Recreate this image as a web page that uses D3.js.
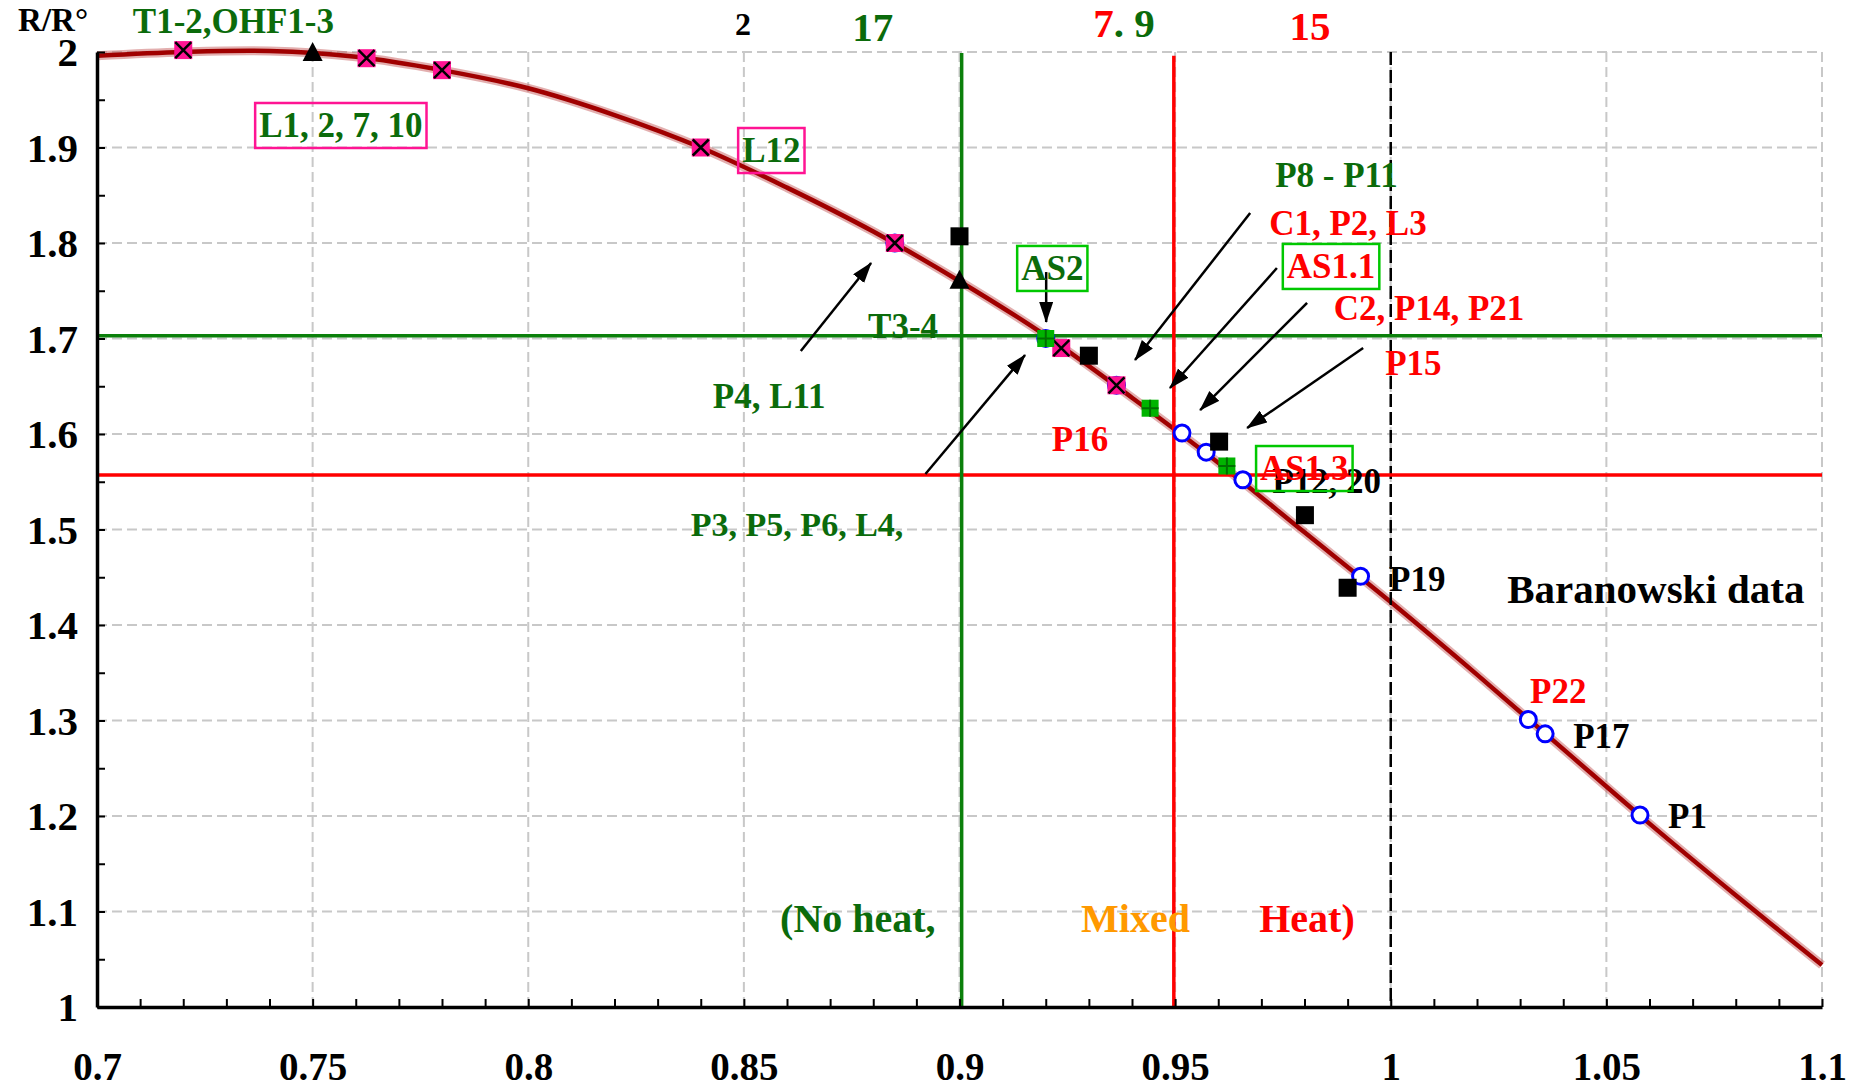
<!DOCTYPE html>
<html>
<head>
<meta charset="utf-8">
<script src="https://cdnjs.cloudflare.com/ajax/libs/d3/7.8.5/d3.min.js"></script>
<style>
body { margin: 0; background: #fff; }
svg { display: block; font-family: "Liberation Serif", "Times New Roman", serif; font-weight: bold; }
</style>
</head>
<body>
<div id="chart"></div>
<script>
// main curve R/R°
const curveX = [0.70, 0.72, 0.74, 0.76, 0.78, 0.80, 0.82, 0.84, 0.86, 0.88, 0.90, 0.92, 0.94, 0.96, 0.98, 1.00, 1.02, 1.04, 1.06, 1.08, 1.10];
const curveY = [1.996, 2.000, 2.001, 1.995, 1.981, 1.962, 1.934, 1.900, 1.858, 1.812, 1.760, 1.703, 1.638, 1.570, 1.497, 1.424, 1.348, 1.270, 1.192, 1.117, 1.044];

// point series
const pinkX = [0.72, 0.7625, 0.78, 0.84, 0.885, 0.9236, 0.9364];
const pinkY = [2.002, 1.9935, 1.981, 1.900, 1.800, 1.690, 1.651];
const blueX = [0.885, 0.92, 0.9364, 0.9516, 0.9572, 0.9657, 0.993, 1.0319, 1.0358, 1.0578];
const blueY = [1.800, 1.700, 1.651, 1.601, 1.581, 1.552, 1.451, 1.301, 1.286, 1.201];
const blackSqX = [0.9, 0.93, 0.9602, 0.9801, 0.99];
const blackSqY = [1.807, 1.682, 1.592, 1.515, 1.439];
const triX = [0.75, 0.9];
const triY = [1.998, 1.7595];
const greenX = [0.92, 0.9442, 0.962];
const greenY = [1.700, 1.627, 1.5665];

// reference lines
const greenVx = 0.9005, redVx = 0.9497, blackVx = 1.0;
const greenHy = 1.703, redHy = 1.557;

// axes
const xTickValues = [0.7, 0.75, 0.8, 0.85, 0.9, 0.95, 1.0, 1.05, 1.1];
const xTickLabels = ["0.7", "0.75", "0.8", "0.85", "0.9", "0.95", "1", "1.05", "1.1"];
const yTickValues = [1.0, 1.1, 1.2, 1.3, 1.4, 1.5, 1.6, 1.7, 1.8, 1.9, 2.0];
const yTickLabels = ["1", "1.1", "1.2", "1.3", "1.4", "1.5", "1.6", "1.7", "1.8", "1.9", "2"];

// annotation texts
const labelTexts = ["R/R°", "T1-2,OHF1-3", "2", "17", "15", "P8 - P11", "C1, P2, L3", "C2, P14, P21", "P15",
  "T3-4", "P4, L11", "P16", "P3, P5, P6, L4,", "P12, 20", "P19", "Baranowski data", "P22", "P17", "P1",
  "(No heat,", "Mixed", "Heat)"];
const boxTexts = ["L1, 2, 7, 10", "L12", "AS2", "AS1.1", "AS1.3"];

// arrows [x1, y1, x2, y2] in data units
const arrows = [
  [0.8632, 1.6869, 0.8795, 1.7791],
  [0.8921, 1.5581, 0.9152, 1.6827],
  [0.9201, 1.7696, 0.9201, 1.7173],
  [0.9674, 1.8314, 0.9407, 1.6775],
  [0.9736, 1.7738, 0.9488, 1.6482],
  [0.9806, 1.7372, 0.9558, 1.6251],
  [0.9936, 1.6901, 0.9667, 1.6063]
];

const W = 1858, H = 1088;
const DKGREEN = "#0b6b0b", LINEGREEN = "#0b800b", RED = "#ff0000", PINK = "#ff1493", BOXGREEN = "#00c800";

var svg = d3.select("#chart").append("svg").attr("width", W).attr("height", H);

var x = d3.scaleLinear().domain([0.7, 1.1]).range([97, 1822]);
var y = d3.scaleLinear().domain([1, 2]).range([1007, 52]);

svg.append("defs").append("marker")
  .attr("id", "arrow")
  .attr("markerUnits", "userSpaceOnUse")
  .attr("markerWidth", 22).attr("markerHeight", 16)
  .attr("refX", 20).attr("refY", 7)
  .attr("orient", "auto")
  .append("path").attr("d", "M0,0 L21,7 L0,14 Z").attr("fill", "#000");

// grid
var grid = svg.append("g");
grid.selectAll(".gx").data(xTickValues.slice(1)).enter().append("line")
  .attr("x1", d => x(d)).attr("x2", d => x(d))
  .attr("y1", y(1)).attr("y2", y(2))
  .attr("stroke", "#c8c8c8").attr("stroke-width", 2).attr("stroke-dasharray", "10,5");
grid.selectAll(".gy").data(yTickValues.slice(1)).enter().append("line")
  .attr("x1", x(0.7)).attr("x2", x(1.1))
  .attr("y1", d => y(d)).attr("y2", d => y(d))
  .attr("stroke", "#c8c8c8").attr("stroke-width", 2).attr("stroke-dasharray", "10,5");

// curve
var curveData = curveX.map((v, i) => ({x: v, y: curveY[i]}));
var line = d3.line().x(d => x(d.x)).y(d => y(d.y)).curve(d3.curveCatmullRom);
svg.append("path").datum(curveData).attr("d", line)
  .attr("fill", "none").attr("stroke", "#c86060").attr("stroke-opacity", 0.5).attr("stroke-width", 9);
svg.append("path").datum(curveData).attr("d", line)
  .attr("fill", "none").attr("stroke", "#a00000").attr("stroke-width", 4.5);

// reference lines
svg.append("line").attr("x1", x(blackVx)).attr("x2", x(blackVx)).attr("y1", y(2)).attr("y2", y(1))
  .attr("stroke", "#000").attr("stroke-width", 2.5).attr("stroke-dasharray", "13,5");
svg.append("line").attr("x1", x(0.7)).attr("x2", x(1.1)).attr("y1", y(greenHy)).attr("y2", y(greenHy))
  .attr("stroke", LINEGREEN).attr("stroke-width", 3.5);
svg.append("line").attr("x1", x(0.7)).attr("x2", x(1.1)).attr("y1", y(redHy)).attr("y2", y(redHy))
  .attr("stroke", RED).attr("stroke-width", 3.5);
svg.append("line").attr("x1", x(greenVx)).attr("x2", x(greenVx)).attr("y1", y(1.999)).attr("y2", y(1))
  .attr("stroke", LINEGREEN).attr("stroke-width", 3.5);
svg.append("line").attr("x1", x(redVx)).attr("x2", x(redVx)).attr("y1", y(1.996)).attr("y2", y(1))
  .attr("stroke", RED).attr("stroke-width", 3.5);

// markers
svg.selectAll(".blue").data(blueX).enter().append("circle")
  .attr("cx", d => x(d)).attr("cy", (d, i) => y(blueY[i])).attr("r", 8)
  .attr("fill", "#fff").attr("stroke", "#0000ff").attr("stroke-width", 3);

var pk = svg.selectAll(".pink").data(pinkX).enter().append("g")
  .attr("transform", (d, i) => "translate(" + x(d) + "," + y(pinkY[i]) + ")");
pk.append("rect").attr("x", -9).attr("y", -9).attr("width", 18).attr("height", 18).attr("fill", PINK);
pk.append("path").attr("d", "M-8,-8L8,8M-8,8L8,-8").attr("stroke", "#000").attr("stroke-width", 2.5);

svg.selectAll(".sq").data(blackSqX).enter().append("rect")
  .attr("x", d => x(d) - 9).attr("y", (d, i) => y(blackSqY[i]) - 9)
  .attr("width", 18).attr("height", 18).attr("fill", "#000");

svg.selectAll(".tri").data(triX).enter().append("path")
  .attr("transform", (d, i) => "translate(" + x(d) + "," + y(triY[i]) + ")")
  .attr("d", "M0,-12L10,7L-10,7Z").attr("fill", "#000");

var gp = svg.selectAll(".gp").data(greenX).enter().append("g")
  .attr("transform", (d, i) => "translate(" + x(d) + "," + y(greenY[i]) + ")");
gp.append("rect").attr("x", -8.5).attr("y", -8.5).attr("width", 17).attr("height", 17).attr("fill", "#00b400");
gp.append("path").attr("d", "M0,-8.5V8.5M-8.5,0H8.5").attr("stroke", "#006e00").attr("stroke-width", 2);

// arrows
svg.selectAll(".arr").data(arrows).enter().append("line")
  .attr("x1", d => x(d[0])).attr("y1", d => y(d[1]))
  .attr("x2", d => x(d[2])).attr("y2", d => y(d[3]))
  .attr("stroke", "#000").attr("stroke-width", 2.5).attr("marker-end", "url(#arrow)");

// axes
var xMinor = d3.range(70, 111).map(v => v / 100);
var yMinor = d3.range(20, 41).map(v => v / 20);
var xLab = {}; xTickValues.forEach((v, i) => xLab[v.toFixed(2)] = xTickLabels[i]);
var yLab = {}; yTickValues.forEach((v, i) => yLab[v.toFixed(2)] = yTickLabels[i]);

var gx = svg.append("g").attr("transform", "translate(0," + y(1) + ")")
  .call(d3.axisBottom(x).tickValues(xMinor).tickSizeInner(-8).tickSizeOuter(0).tickPadding(45)
    .tickFormat(d => xLab[d.toFixed(2)] || ""));
var gy = svg.append("g").attr("transform", "translate(" + x(0.7) + ",0)")
  .call(d3.axisLeft(y).tickValues(yMinor).tickSizeInner(-8).tickSizeOuter(0).tickPadding(19)
    .tickFormat(d => yLab[d.toFixed(2)] || ""));
[gx, gy].forEach(g => {
  g.attr("font-family", null).attr("font-weight", "bold");
  g.select(".domain").attr("stroke-width", 3.5);
  g.selectAll(".tick line").attr("stroke-width", 2);
  g.selectAll("text").attr("fill", "#000");
});
gx.attr("font-size", 39);
gy.attr("font-size", 41);
gy.selectAll("text").attr("dy", "0.34em");

// annotations: [text index, x, y, colour, size, anchor]
const labelLayout = [
  [0, 0.6817, 2.0220, "#000", 33, "start"],
  [1, 0.7083, 2.0199, DKGREEN, 35, "start"],
  [2, 0.8498, 2.0178, "#000", 32, "middle"],
  [3, 0.8799, 2.0115, DKGREEN, 41, "middle"],
  [4, 0.9813, 2.0126, RED, 41, "middle"],
  [5, 0.9732, 1.8586, DKGREEN, 35, "start"],
  [6, 0.9718, 1.8084, RED, 35, "start"],
  [7, 0.9868, 1.7194, RED, 35, "start"],
  [8, 0.9987, 1.6618, RED, 35, "start"],
  [9, 0.8788, 1.7005, DKGREEN, 35, "start"],
  [10, 0.8428, 1.6272, DKGREEN, 35, "start"],
  [11, 0.9214, 1.5822, RED, 35, "start"],
  [12, 0.8377, 1.4932, DKGREEN, 34, "start"],
  [13, 0.9725, 1.5382, "#000", 35, "start"],
  [14, 0.9996, 1.4356, "#000", 35, "start"],
  [15, 1.0270, 1.4230, "#000", 41, "start"],
  [16, 1.0323, 1.3183, RED, 35, "start"],
  [17, 1.0423, 1.2712, "#000", 35, "start"],
  [18, 1.0643, 1.1874, "#000", 35, "start"],
  [19, 0.8584, 1.0785, DKGREEN, 40, "start"],
  [20, 0.9282, 1.0785, "#ff9900", 40, "start"],
  [21, 0.9695, 1.0785, RED, 40, "start"]
];
svg.selectAll(".lbl").data(labelLayout).enter().append("text")
  .attr("x", d => x(d[1])).attr("y", d => y(d[2]))
  .attr("fill", d => d[3]).attr("font-size", d => d[4]).attr("text-anchor", d => d[5])
  .text(d => labelTexts[d[0]]);

// "7. 9" two colours
var t79 = svg.append("text").attr("x", x(0.9310)).attr("y", y(2.0157)).attr("font-size", 41);
t79.append("tspan").attr("fill", RED).text("7");
t79.append("tspan").attr("fill", DKGREEN).text(". 9");

// boxed labels: [text index, x, y, text colour, box colour]
const boxLayout = [
  [0, 0.7376, 1.9110, DKGREEN, PINK],
  [1, 0.8496, 1.8848, DKGREEN, PINK],
  [2, 0.9143, 1.7613, DKGREEN, BOXGREEN],
  [3, 0.9759, 1.7634, RED, BOXGREEN],
  [4, 0.9697, 1.5518, RED, BOXGREEN]
];
boxLayout.forEach(b => {
  var g = svg.append("g");
  var t = g.append("text").attr("x", x(b[1])).attr("y", y(b[2]))
    .attr("fill", b[3]).attr("font-size", 35).text(boxTexts[b[0]]);
  var bb = t.node().getBBox();
  g.insert("rect", "text")
    .attr("x", bb.x - 4).attr("y", bb.y - 3).attr("width", bb.width + 8).attr("height", bb.height + 6)
    .attr("fill", "none").attr("stroke", b[4]).attr("stroke-width", 2.5);
});
</script>
</body>
</html>
